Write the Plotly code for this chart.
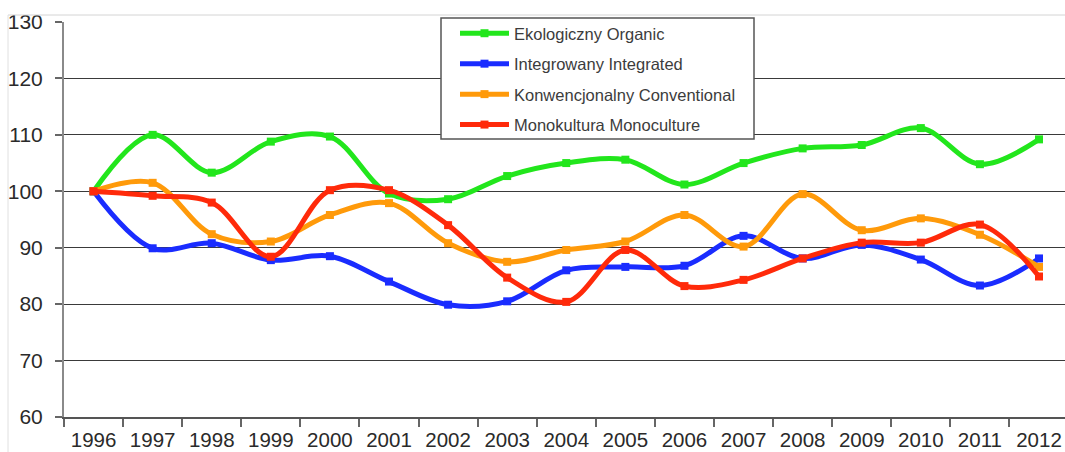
import plotly.graph_objects as go

years = [str(y) for y in range(1996, 2013)]

organic = [100, 110.0, 103.3, 108.8, 109.7, 99.6, 98.6, 102.7, 105.0, 105.6, 101.2,
           105.0, 107.6, 108.2, 111.2, 104.8, 109.2]
integrated = [100, 89.9, 90.8, 87.8, 88.5, 84.0, 79.9, 80.5, 86.0, 86.6, 86.8,
              92.1, 88.1, 90.5, 87.9, 83.3, 88.1]
conventional = [100, 101.5, 92.4, 91.1, 95.8, 97.9, 90.8, 87.5, 89.6, 91.1, 95.8,
                90.2, 99.5, 93.1, 95.2, 92.3, 86.6]
monoculture = [100, 99.2, 98.0, 88.4, 100.2, 100.2, 94.0, 84.7, 80.4, 89.6, 83.2,
               84.3, 88.1, 90.9, 90.9, 94.1, 84.9]

series_names = ["Ekologiczny Organic", "Integrowany Integrated",
                "Konwencjonalny Conventional", "Monokultura Monoculture"]
series_values = [organic, integrated, conventional, monoculture]
series_colors = ["#22e61c", "#1a2cff", "#ff9a0a", "#ff2a0a"]

y_ticks = [60, 70, 80, 90, 100, 110, 120, 130]

fig = go.Figure()
for i, (name, vals, col) in enumerate(zip(series_names, series_values, series_colors)):
    fig.add_trace(go.Scatter(
        x=years, y=vals, name=name, mode="lines+markers",
        line=dict(color=col, width=5, shape="spline", smoothing=1.0),
        marker=dict(symbol="square", size=8, color=col),
        legendgroup=f"g{i}",
    ))

font_family = "Liberation Sans, Arial, sans-serif"

# plot area: x 64..1065 px, y 22..417 px
def px_x(px):
    return (px - 64) / 1001.0

def px_y(py):
    return (417 - py) / 395.0

fig.update_layout(
    width=1065, height=452,
    margin=dict(l=64, r=0, t=22, b=35, autoexpand=False),
    paper_bgcolor="white", plot_bgcolor="white",
    font=dict(family=font_family, color="#2a2a2a"),
    showlegend=True,
    legend=dict(
        x=px_x(455), y=px_y(16), xanchor="left", yanchor="top",
        bgcolor="rgba(0,0,0,0)", borderwidth=0,
        font=dict(size=16.5, color="#3c3c3c", family=font_family),
        tracegroupgap=6, itemwidth=49,
    ),
    xaxis=dict(
        type="category", range=[-0.5, 16.44], automargin=False,
        showgrid=False, zeroline=False,
        showline=True, linecolor="#555555", linewidth=2,
        ticks="outside", tickson="boundaries", ticklen=8, tickcolor="#666666", tickwidth=1.5,
        tickfont=dict(size=20.5, color="#2a2a2a"),
        ticklabelstandoff=3,
    ),
    yaxis=dict(
        range=[60, 130], tickvals=y_ticks, ticktext=[str(v) for v in y_ticks],
        automargin=False,
        showgrid=True, gridcolor="#3a3a3a", gridwidth=1.3, zeroline=False,
        showline=True, linecolor="#8a8a8a", linewidth=2,
        ticks="outside", ticklen=7, tickcolor="#666666", tickwidth=1.5,
        tickfont=dict(size=21, color="#2a2a2a"),
        ticklabelstandoff=8,
    ),
    shapes=[
        dict(type="line", xref="paper", yref="paper", x0=px_x(8), x1=1.0, y0=px_y(15), y1=px_y(15),
             line=dict(color="#d4d4d4", width=1)),
        dict(type="line", xref="paper", yref="paper", x0=px_x(8), x1=px_x(8), y0=px_y(15), y1=px_y(452),
             line=dict(color="#e0e0e0", width=1)),
        dict(type="rect", xref="paper", yref="paper", layer="above",
             x0=px_x(441), x1=px_x(754), y0=px_y(18), y1=px_y(139),
             fillcolor="white", line=dict(color="#555555", width=1.5)),
    ],
)

fig.write_html("out.html", config={"displayModeBar": False},
               post_script="document.body.style.margin='0';")
